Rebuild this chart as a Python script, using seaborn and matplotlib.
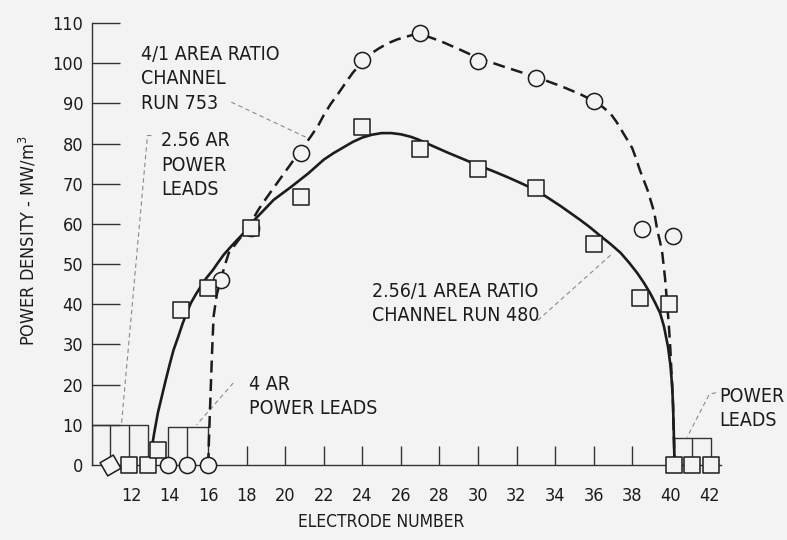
import matplotlib
matplotlib.use("Agg")
import matplotlib.pyplot as plt
import seaborn as sns
from matplotlib.markers import MarkerStyle
from matplotlib.transforms import Affine2D

# -------- datos --------
# Run 480 (2.56/1 area ratio) - cuadrados
e_run480 = [11.9, 12.9, 13.4, 14.6, 16.0, 18.2, 20.8, 24.0, 27.0, 30.0, 33.0, 36.0, 38.4, 39.9, 40.15, 41.1, 42.1]
p_run480 = [0, 0, 3.7, 38.6, 44, 59, 66.7, 84, 78.7, 73.7, 69, 55, 41.5, 40, 0, 0, 0]
e_run480_tilt = [10.9]
p_run480_tilt = [0]

# Run 753 (4/1 area ratio) - circulos
e_run753 = [13.9, 14.9, 16.0, 16.65, 18.2, 20.8, 24.0, 27.0, 30.0, 33.0, 36.0, 38.5, 40.1]
p_run753 = [0, 0, 0, 46, 59, 77.7, 100.8, 107.6, 100.5, 96.4, 90.6, 58.7, 57]

# curvas trazadas a mano (leidas punto a punto)
e_curve480 = [13.03, 13.2, 13.39, 13.6, 13.8, 14.0, 14.2, 14.45, 14.68, 14.9, 15.1, 15.35, 15.6,
              15.9, 16.24, 16.5, 16.8, 17.15, 17.5, 18.0, 18.4, 18.9, 19.4, 19.85, 20.3, 20.75,
              21.2, 21.6, 22.0, 22.5, 23.0, 23.5, 24.0, 24.5, 25.0, 25.5, 26.0, 26.5, 26.9, 27.6,
              28.4, 29.2, 30.0, 30.75, 31.5, 32.25, 33.0, 33.6, 34.3, 34.8, 35.3, 35.8, 36.3,
              36.85, 37.4, 37.85, 38.26, 38.6, 38.93, 39.2, 39.45, 39.65, 39.86, 39.98, 40.07,
              40.12, 40.16, 40.2]
p_curve480 = [3, 8, 13, 17.2, 21.2, 25, 28.6, 32, 35.3, 38, 40.3, 42.4, 44.3,
              46.5, 48.5, 50.3, 52.3, 54.2, 56, 58.5, 61, 63.5, 66, 67.6, 69.2, 70.9,
              72.6, 74.3, 76, 77.6, 79, 80.4, 81.5, 82.2, 82.6, 82.6, 82.3, 81.7, 81.0, 79.5,
              77.8, 76.2, 74.6, 73.2, 71.7, 70.1, 68.4, 66.6, 64.4, 62.7, 61, 59.2, 57.2,
              55.1, 52.8, 50.3, 47.8, 45.4, 42.8, 40.3, 37.8, 34.5, 29.4, 25, 20,
              15, 8, 0]

e_curve753 = [16.0, 16.05, 16.13, 16.2, 16.28, 16.45, 16.65, 16.85, 17.07, 17.5, 17.9, 18.3,
              18.6, 19.0, 19.4, 19.85, 20.3, 20.8, 21.3, 21.7, 22.0, 22.35, 22.7, 23.1, 23.5,
              24.0, 24.4, 24.8, 25.3, 25.8, 26.5, 27.0, 28.05, 29.1, 30.0, 31.3, 32.2, 33.1,
              34.3, 35.3, 36.0, 36.5, 36.9, 37.2, 37.5, 37.8, 38.0, 38.2, 38.4, 38.6, 38.8,
              39.0, 39.15, 39.3, 39.45, 39.56, 39.7, 39.8, 39.9, 39.98, 40.05, 40.12, 40.2]
p_curve753 = [0, 8, 18.7, 28, 37, 42.5, 46, 49.5, 52.8, 55.5, 58, 61,
              63.5, 66.3, 69, 72, 75, 78.3, 81.6, 84.4, 87.1, 89.8, 92.1, 94.9, 97.6,
              100.3, 102.2, 103.5, 104.9, 105.9, 106.9, 107.3, 105.5, 103.3, 101.3, 99.2, 97.8, 96.4,
              94.3, 92.3, 90.6, 89, 87.3, 85.3, 82.9, 80.5, 78.9, 76.3, 73.4, 70.9, 68.4,
              65.2, 62.8, 58.5, 55.5, 52.8, 46.8, 41, 35, 29, 22, 15, 0]

# cajas de "power leads"
leads_256_x = [9.95, 10.9, 11.9, 12.9]
leads_256_top = 10.0
leads_4_x = [13.9, 14.9, 16.0]
leads_4_top = 9.5
leads_right_x = [40.15, 41.1, 42.1]
leads_right_top = 6.7

x_ticks = list(range(12, 43, 2))
y_ticks = list(range(0, 111, 10))

# -------- estilo --------
sns.set_theme(style="white")
bg = "#f3f3f3"
ink = "#1c1c1c"
plt.rcParams["font.family"] = ["DejaVu Sans"]
plt.rcParams["font.stretch"] = "condensed"
plt.rcParams["mathtext.default"] = "regular"

fig = plt.figure(figsize=(7.87, 5.4), dpi=100, facecolor=bg)
ax = fig.add_axes([0.1164, 0.1389, 0.7995, 0.8185])
ax.set_facecolor(bg)

# cajas
for xs, top in [(leads_256_x, leads_256_top), (leads_4_x, leads_4_top), (leads_right_x, leads_right_top)]:
    ax.plot([xs[0], xs[-1]], [top, top], color="#333333", lw=1.0, zorder=2, clip_on=False)
    ax.vlines(xs, 0, top, color="#333333", lw=1.0, zorder=2)

# curvas
sns.lineplot(x=e_curve480, y=p_curve480, sort=False, estimator=None, color=ink, lw=1.9, ax=ax, zorder=3)
sns.lineplot(x=e_curve753, y=p_curve753, sort=False, estimator=None, color=ink, lw=1.8,
             linestyle=(0, (4.8, 2.6)), ax=ax, zorder=3)

# marcadores
sns.scatterplot(x=e_run753, y=p_run753, marker="o", s=135, facecolor=bg, edgecolor=ink,
                linewidth=1.1, ax=ax, zorder=4, clip_on=False)
sns.scatterplot(x=e_run480, y=p_run480, marker="s", s=120, facecolor=bg, edgecolor=ink,
                linewidth=1.1, ax=ax, zorder=5, clip_on=False)
tilt = MarkerStyle("s", transform=Affine2D().rotate_deg(30))
sns.scatterplot(x=e_run480_tilt, y=p_run480_tilt, marker=tilt, s=120, facecolor=bg, edgecolor=ink,
                linewidth=1.1, ax=ax, zorder=5, clip_on=False)

# textos y lineas guia
txt = dict(color=ink, fontsize=14, linespacing=1.35, va="top", ha="left")
lead = dict(color="#8a8a8a", lw=0.8, linestyle=(0, (4, 3)), zorder=1, clip_on=False)

ax.text(12.5, 104.5, "4/1 AREA RATIO\nCHANNEL\nRUN 753", **txt)
ax.plot([17.2, 21.06], [90.3, 81.6], **lead)

ax.text(13.55, 83, "2.56 AR\nPOWER\nLEADS", **txt)
ax.plot([13.05, 12.85, 11.5], [82, 82, 10.2], **lead)

ax.text(18.1, 22.5, "4 AR\nPOWER LEADS", **txt)
ax.plot([17.3, 15.4], [20.4, 10.0], **lead)

ax.text(24.5, 45.5, "2.56/1 AREA RATIO\nCHANNEL RUN 480", **txt)
ax.plot([33.1, 36.9], [36.0, 52.3], **lead)

ax.text(42.5, 19.5, "POWER\nLEADS", **txt)
ax.plot([42.35, 42.0, 40.85], [18.0, 17.6, 6.9], **lead)

# ejes
ax.set_xlim(9.95, 42.6)
ax.set_ylim(0, 110)
sns.despine(ax=ax)
for side in ["left", "bottom"]:
    ax.spines[side].set_color("#333333")
    ax.spines[side].set_linewidth(1.0)

ax.set_xticks(x_ticks)
ax.set_yticks(y_ticks)
ax.tick_params(axis="y", direction="in", length=20, width=1.0, color="#333333",
               labelsize=13, labelcolor=ink, pad=6, left=True)
ax.tick_params(axis="x", direction="in", length=14, width=1.0, color="#333333",
               labelsize=13, labelcolor=ink, pad=16, bottom=True)
for tick, loc in zip(ax.xaxis.get_major_ticks(), x_ticks):
    if loc < 18 or loc > 38:
        tick.tick1line.set_visible(False)
ax.yaxis.get_major_ticks()[0].tick1line.set_visible(False)

fig.text(28 / 787, 1 - 241 / 540, "POWER DENSITY - MW/m$^3$", rotation=90,
         ha="center", va="center", fontsize=13, color=ink)
fig.text(381 / 787, 1 - 522 / 540, "ELECTRODE NUMBER", ha="center", va="center",
         fontsize=12.5, color=ink)

fig.savefig("out.png", dpi=100, facecolor=bg)
